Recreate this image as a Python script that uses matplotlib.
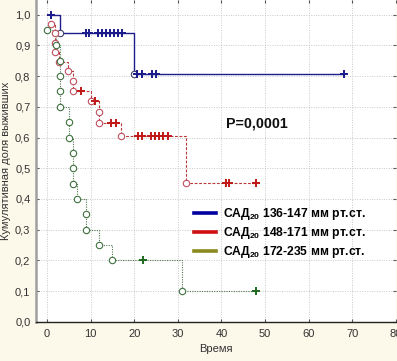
import matplotlib
matplotlib.use("Agg")
import matplotlib.pyplot as plt

# ---- data ----
# Group 1: САД20 136-147
blue_event_t = [3, 20]
blue_event_s = [0.94, 0.806]
blue_cens_t = [0.9, 8.9, 9.6, 11.7, 12.6, 13.5, 14.4, 15.4, 16.2, 17.2, 20.7, 21.7, 24, 25, 68]
blue_cens_s = [1.0, 0.94, 0.94, 0.94, 0.94, 0.94, 0.94, 0.94, 0.94, 0.94, 0.806, 0.806, 0.806, 0.806, 0.806]

# Group 2: САД20 148-171
red_event_t = [0.85, 1.8, 1.8, 1.9, 2.8, 4.9, 5.9, 5.9, 10, 11.9, 11.9, 16.9, 31.9]
red_event_s = [0.969, 0.939, 0.908, 0.877, 0.846, 0.816, 0.784, 0.752, 0.72, 0.683, 0.647, 0.605, 0.453]
red_cens_t = [7.7, 11, 14.8, 15.8, 20.9, 21.8, 23.9, 24.8, 25.7, 26.6, 27.8, 41, 41.8, 48]
red_cens_s = [0.752, 0.72, 0.647, 0.647, 0.605, 0.605, 0.605, 0.605, 0.605, 0.605, 0.605, 0.453, 0.453, 0.453]

# Group 3: САД20 172-235
green_event_t = [0, 2, 3, 3, 3, 3, 5, 5, 6, 6, 6, 7, 9, 9, 12, 15, 31]
green_event_s = [0.95, 0.90, 0.85, 0.80, 0.75, 0.70, 0.65, 0.60, 0.55, 0.50, 0.45, 0.40, 0.35, 0.30, 0.25, 0.20, 0.10]
green_cens_t = [22, 48]
green_cens_s = [0.20, 0.10]

legend_labels = ["САД$_{\\mathbf{20}}$ 136-147 мм рт.ст.",
                 "САД$_{\\mathbf{20}}$ 148-171 мм рт.ст.",
                 "САД$_{\\mathbf{20}}$ 172-235 мм рт.ст."]
x_ticks = [0, 10, 20, 30, 40, 50, 60, 70, 80]
y_ticks = [0.0, 0.1, 0.2, 0.3, 0.4, 0.5, 0.6, 0.7, 0.8, 0.9, 1.0]
y_tick_labels = ["0,0", "0,1", "0,2", "0,3", "0,4", "0,5", "0,6", "0,7", "0,8", "0,9", "1,0"]
p_text = "P=0,0001"

plt.rcParams['mathtext.fontset'] = 'custom'
plt.rcParams['mathtext.rm'] = 'Liberation Sans'
plt.rcParams['mathtext.bf'] = 'Liberation Sans:bold'

fig = plt.figure(figsize=(3.97, 3.61), dpi=100, facecolor='#fcf8ea')
ax = fig.add_axes([36/397, 39.3/361, (396-36)/397, 1 - 39.3/361])
ax.set_facecolor('white')

groups = [
    (blue_event_t, blue_event_s, blue_cens_t, blue_cens_s, '#1c1c8a', '-', 1.0, '#404068', '#1a1a8a'),
    (red_event_t, red_event_s, red_cens_t, red_cens_s, '#b83838', (0, (2.5, 1.5)), 0.8, '#c05060', '#c01818'),
    (green_event_t, green_event_s, green_cens_t, green_cens_s, '#507850', (0, (1, 1.2)), 0.8, '#3f703f', '#1f6a1f'),
]

for et, es, ct, cs, lc, ls, lw, mc, cc in groups:
    pts = sorted([(t, s) for t, s in zip(et, es)] + [(t, s) for t, s in zip(ct, cs)],
                 key=lambda p: (p[0], -p[1]))
    xs = [p[0] for p in pts]
    ys = [p[1] for p in pts]
    ax.step(xs, ys, where='post', color=lc, linestyle=ls, linewidth=lw, zorder=3)
    ax.plot(et, es, linestyle='none', marker='o', markersize=4.6, markerfacecolor='white',
            markeredgecolor=mc, markeredgewidth=0.8, zorder=4)
    ax.plot(ct, cs, linestyle='none', marker='+', markersize=5.5, markeredgewidth=1.4,
            color=cc, zorder=5)

# legend
legend_colors = ['#0000a0', '#d01010', '#8a8a20']
handles = [plt.Line2D([0], [0], color=c, linewidth=2.6) for c in legend_colors]
leg = ax.legend(handles, legend_labels, loc='upper left', bbox_to_anchor=(0.41, 0.394),
                frameon=False, handlelength=1.8, handletextpad=0.55, labelspacing=0.25,
                prop={'family': 'Liberation Sans', 'weight': 'bold', 'size': 8.7})

ax.text(41, 0.647, p_text, fontsize=10.3, fontweight='bold', family='Liberation Sans',
        ha='left', va='center', color='#111111')

ax.set_xlim(-2.5, 80)
ax.set_ylim(0, 1.048)
ax.set_xticks(x_ticks)
ax.set_yticks(y_ticks)
ax.set_yticklabels(y_tick_labels)
ax.grid(True, color='#c8c8c8', linestyle=(0, (1, 1.5)), linewidth=0.7, zorder=0)
ax.tick_params(axis='both', direction='in', length=2.5, colors='#555555', labelsize=8,
               labelcolor='#333333', top=True, right=True)
ax.tick_params(axis='y', pad=4)
ax.tick_params(axis='x', pad=5)
for lab in ax.get_xticklabels() + ax.get_yticklabels():
    lab.set_family(['Liberation Sans Narrow', 'Liberation Sans'])

ax.spines['left'].set_color('#a0a0a0')
ax.spines['left'].set_linewidth(1.8)
ax.spines['bottom'].set_color('#222222')
ax.spines['bottom'].set_linewidth(1.0)
ax.spines['top'].set_visible(False)
ax.spines['right'].set_visible(False)

ax.set_xlabel("Время", fontsize=8, color='#333333', family='Liberation Sans', labelpad=4)
ax.set_ylabel("Кумулятивная доля выживших", fontsize=8, color='#333333',
              family='Liberation Sans', labelpad=3)

fig.savefig("out.png", dpi=100, facecolor=fig.get_facecolor())
